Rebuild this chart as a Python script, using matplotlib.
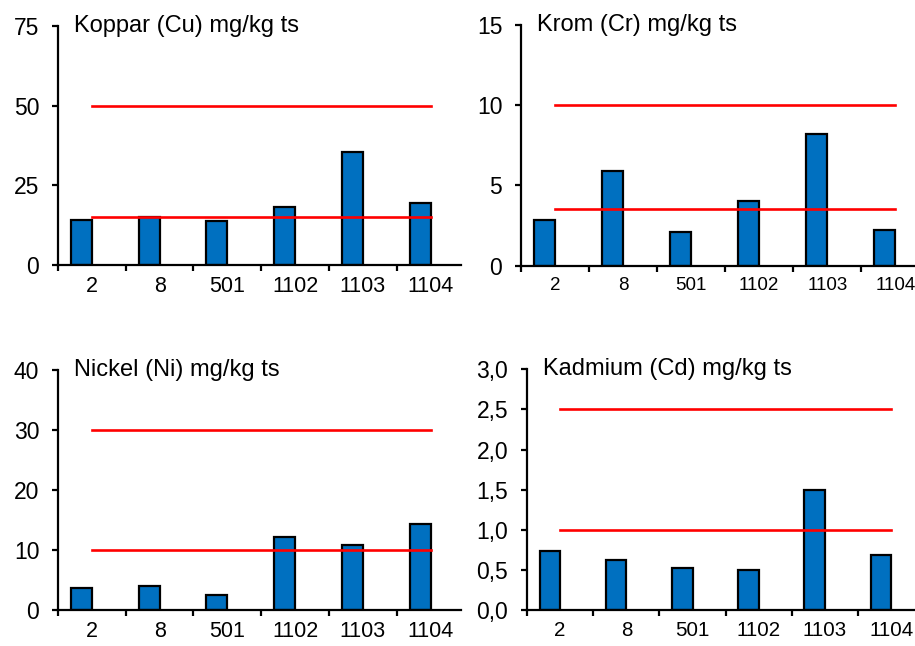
import matplotlib
matplotlib.use("Agg")
import matplotlib.pyplot as plt
import numpy as np
from matplotlib.ticker import FuncFormatter

plt.rcParams["font.family"] = ["Liberation Sans", "DejaVu Sans"]

# sampling sites (x categories)
sites = ["2", "8", "501", "1102", "1103", "1104"]

# measured values, mg/kg ts
cu = [14.1, 15.1, 13.8, 18.3, 35.5, 19.6]
cr = [2.85, 5.9, 2.1, 4.0, 8.2, 2.2]
ni = [3.6, 4.0, 2.5, 12.1, 10.9, 14.3]
cd = [0.73, 0.62, 0.53, 0.50, 1.50, 0.69]

# reference levels (red lines)
cu_limits = [15, 50]
cr_limits = [3.5, 10]
ni_limits = [10, 30]
cd_limits = [1.0, 2.5]

panels = [
    # title, values, limits, ymax, ystep, axes rect, xtick size, decimal comma
    ("Koppar (Cu) mg/kg ts", cu, cu_limits, 75, 25, [0.0634, 0.5898, 0.4404, 0.370], 15.5, False),
    ("Krom (Cr) mg/kg ts", cr, cr_limits, 15, 5, [0.5694, 0.5890, 0.4426, 0.3726], 13.5, False),
    ("Nickel (Ni) mg/kg ts", ni, ni_limits, 40, 10, [0.0634, 0.0557, 0.4404, 0.3715], 15.5, False),
    ("Kadmium (Cd) mg/kg ts", cd, cd_limits, 3.0, 0.5, [0.5760, 0.0557, 0.4305, 0.3725], 14.8, True),
]

fig = plt.figure(figsize=(9.15, 6.46), dpi=100)

for title, vals, limits, ymax, ystep, rect, xsize, comma in panels:
    ax = fig.add_axes(rect)
    x = np.arange(len(sites))
    ax.bar(x - 0.155, vals, width=0.31, color="#0070c0", edgecolor="black",
           linewidth=1.6, zorder=2)
    for lim in limits:
        ax.plot([x[0], x[-1]], [lim, lim], color="#ff0000", lw=1.9, zorder=3)

    ax.set_xlim(-0.5, len(sites) - 0.55)
    ax.set_ylim(0, ymax)
    ax.set_yticks(np.arange(0, ymax + ystep / 2, ystep))
    if comma:
        ax.yaxis.set_major_formatter(FuncFormatter(lambda v, p: f"{v:.1f}".replace(".", ",")))
    ax.set_xticks(np.arange(-0.5, len(sites) - 0.5, 1.0))
    ax.set_xticklabels([])
    ax.set_xticks(x, minor=True)
    ax.set_xticklabels(sites, minor=True, fontsize=xsize)
    ax.tick_params(axis="x", which="major", direction="out", length=4.5, width=1.6)
    ax.tick_params(axis="x", which="minor", length=0, pad=8)
    ax.tick_params(axis="y", direction="out", length=4.5, width=1.6, labelsize=16.5, pad=9)

    for side in ("top", "right"):
        ax.spines[side].set_visible(False)
    for side in ("left", "bottom"):
        ax.spines[side].set_linewidth(1.6)

    ax.text(0.04, 1.0, title, transform=ax.transAxes, fontsize=17,
            ha="left", va="center")

fig.savefig("out.png", dpi=100)
